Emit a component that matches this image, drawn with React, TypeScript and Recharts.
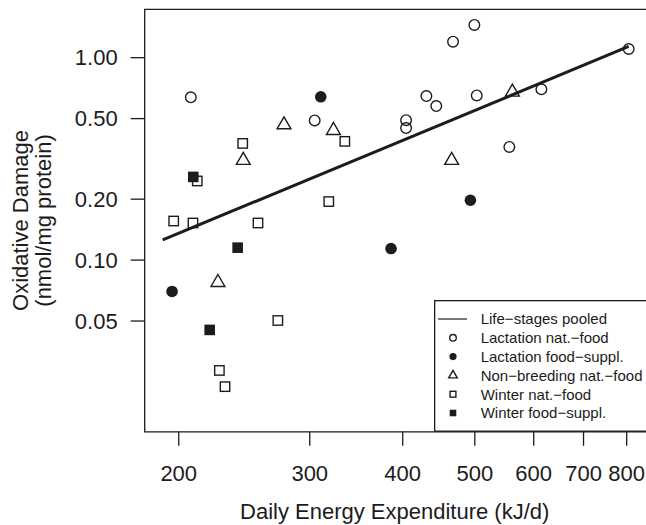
import React from "react";
import { ScatterChart, Scatter, XAxis, YAxis, ReferenceArea, Legend } from "recharts";

const FONT = '"Liberation Sans", Arial, Helvetica, sans-serif';
const INK = "#1c1c1c";

const xTicks = [200, 300, 400, 500, 600, 700, 800];
const yTicks = [0.05, 0.1, 0.2, 0.5, 1];
const xDomain = [180, 876];
const yDomain = [0.01418, 1.734];

// daily energy expenditure (kJ/d) vs oxidative damage (nmol/mg protein)
const lactNat = [
  { dee: 207.6, od: 0.637 },
  { dee: 304.6, od: 0.49 },
  { dee: 404.2, od: 0.491 },
  { dee: 404.2, od: 0.449 },
  { dee: 430.4, od: 0.646 },
  { dee: 443.8, od: 0.577 },
  { dee: 467.4, od: 1.2 },
  { dee: 499.3, od: 1.451 },
  { dee: 503, od: 0.651 },
  { dee: 556.4, od: 0.3625 },
  { dee: 614.4, od: 0.698 },
  { dee: 805, od: 1.104 },
];
const lactSuppl = [
  { dee: 195.9, od: 0.07 },
  { dee: 310.4, od: 0.641 },
  { dee: 385.8, od: 0.114 },
  { dee: 493.2, od: 0.1975 },
];
const nonBreeding = [
  { dee: 225.8, od: 0.0775 },
  { dee: 244.2, od: 0.311 },
  { dee: 277, od: 0.466 },
  { dee: 322.8, od: 0.437 },
  { dee: 465.4, od: 0.311 },
  { dee: 561.6, od: 0.676 },
];
const winterNat = [
  { dee: 196.9, od: 0.156 },
  { dee: 209, od: 0.1525 },
  { dee: 211.8, od: 0.246 },
  { dee: 226.8, od: 0.0285 },
  { dee: 230.8, od: 0.0237 },
  { dee: 243.8, od: 0.377 },
  { dee: 255.6, od: 0.1525 },
  { dee: 271.8, od: 0.0503 },
  { dee: 318.2, od: 0.1946 },
  { dee: 334.4, od: 0.386 },
];
const winterSuppl = [
  { dee: 209.2, od: 0.2576 },
  { dee: 220.1, od: 0.0452 },
  { dee: 240, od: 0.1152 },
];
const pooledFit = [
  { dee: 190.3, od: 0.1257 },
  { dee: 805, od: 1.136 },
];

const legendItems = [
  { label: "Life\u2212stages pooled", kind: "line" },
  { label: "Lactation nat.\u2212food", kind: "openCircle" },
  { label: "Lactation food\u2212suppl.", kind: "solidCircle" },
  { label: "Non\u2212breeding nat.\u2212food", kind: "triangle" },
  { label: "Winter nat.\u2212food", kind: "openSquare" },
  { label: "Winter food\u2212suppl.", kind: "solidSquare" },
];

type Pt = { cx?: number; cy?: number };

function mark(kind: string, cx: number, cy: number, s: number) {
  switch (kind) {
    case "openCircle":
      return <circle cx={cx} cy={cy} r={5.3 * s} fill="none" stroke={INK} strokeWidth={1.4} />;
    case "solidCircle":
      return <circle cx={cx} cy={cy} r={5.8 * s} fill={INK} />;
    case "triangle": {
      const r = 8 * s;
      const h = r * 0.866;
      return (
        <polygon
          points={`${cx},${cy - r} ${cx + h},${cy + r / 2} ${cx - h},${cy + r / 2}`}
          fill="none"
          stroke={INK}
          strokeWidth={1.4}
        />
      );
    }
    case "openSquare":
      return <rect x={cx - 4.7 * s} y={cy - 4.7 * s} width={9.4 * s} height={9.4 * s} fill="none" stroke={INK} strokeWidth={1.4} />;
    case "solidSquare":
      return <rect x={cx - 5.3 * s} y={cy - 5.3 * s} width={10.6 * s} height={10.6 * s} fill={INK} />;
    default:
      return <line x1={cx - 15} x2={cx + 14} y1={cy} y2={cy} stroke={INK} strokeWidth={1.2} />;
  }
}

const shapeOf = (kind: string) => (p: Pt) => mark(kind, p.cx ?? 0, p.cy ?? 0, 1);

function LegendBox() {
  return (
    <svg width={240} height={132} style={{ display: "block" }}>
      <rect x={0.65} y={0.65} width={260} height={130.5} fill="none" stroke={INK} strokeWidth={1.3} />
      {legendItems.map((it, i) => {
        const y = 19 + i * 18.8;
        return (
          <g key={it.label}>
            {mark(it.kind, 19, y, 0.62)}
            <text x={46.7} y={y + 5.4} fontSize={15} fontFamily={FONT} fill={INK}>
              {it.label}
            </text>
          </g>
        );
      })}
    </svg>
  );
}

const tickStyle = { fill: INK, fontSize: 22, fontFamily: FONT };
const tickLine = { stroke: INK, strokeWidth: 1.3 };

export default function App() {
  return (
    <div style={{ position: "absolute", left: 0, top: 0, width: 646, height: 525, overflow: "hidden", background: "#fff", fontFamily: FONT }}>
      <ScatterChart width={660} height={525} margin={{ top: 9.3, right: 4, bottom: 0, left: 4.7 }}>
        <XAxis
          dataKey="dee"
          type="number"
          scale="log"
          domain={xDomain}
          allowDataOverflow
          ticks={xTicks}
          interval={0}
          tickSize={14}
          tickMargin={20}
          axisLine={false}
          tickLine={tickLine}
          tick={tickStyle}
          height={93.2}
          label={{
            content: () => (
              <text x={394.7} y={518.5} textAnchor="middle" fontSize={22} fontFamily={FONT} fill={INK}>
                Daily Energy Expenditure (kJ/d)
              </text>
            ),
          }}
        />
        <YAxis
          dataKey="od"
          type="number"
          scale="log"
          domain={yDomain}
          allowDataOverflow
          ticks={yTicks}
          interval={0}
          tickFormatter={(v: number) => v.toFixed(2)}
          tickSize={14}
          tickMargin={13}
          axisLine={false}
          tickLine={tickLine}
          tick={tickStyle}
          width={140}
          label={{
            content: () => (
              <g fontSize={22} fontFamily={FONT} fill={INK}>
                <text x={28} y={220.5} textAnchor="middle" transform="rotate(-90 28 220.5)">
                  Oxidative Damage
                </text>
                <text x={51} y={220.5} textAnchor="middle" transform="rotate(-90 51 220.5)">
                  (nmol/mg protein)
                </text>
              </g>
            ),
          }}
        />
        <ReferenceArea
          x1={xDomain[0]}
          x2={xDomain[1]}
          y1={yDomain[0]}
          y2={yDomain[1]}
          fill="none"
          fillOpacity={0}
          stroke={INK}
          strokeWidth={1.3}
          ifOverflow="visible"
        />
        <Scatter name="Lactation nat.-food" data={lactNat} shape={shapeOf("openCircle")} isAnimationActive={false} />
        <Scatter name="Lactation food-suppl." data={lactSuppl} shape={shapeOf("solidCircle")} isAnimationActive={false} />
        <Scatter name="Non-breeding nat.-food" data={nonBreeding} shape={shapeOf("triangle")} isAnimationActive={false} />
        <Scatter name="Winter nat.-food" data={winterNat} shape={shapeOf("openSquare")} isAnimationActive={false} />
        <Scatter name="Winter food-suppl." data={winterSuppl} shape={shapeOf("solidSquare")} isAnimationActive={false} />
        <Scatter
          name="Life-stages pooled"
          data={pooledFit}
          line={{ stroke: INK, strokeWidth: 3 }}
          shape={() => <g />}
          isAnimationActive={false}
        />
        <Legend
          layout="vertical"
          align="center"
          verticalAlign="middle"
          wrapperStyle={{ left: 433.7, top: 300.4, width: 240, height: 132 }}
          content={() => <LegendBox />}
        />
      </ScatterChart>
    </div>
  );
}
